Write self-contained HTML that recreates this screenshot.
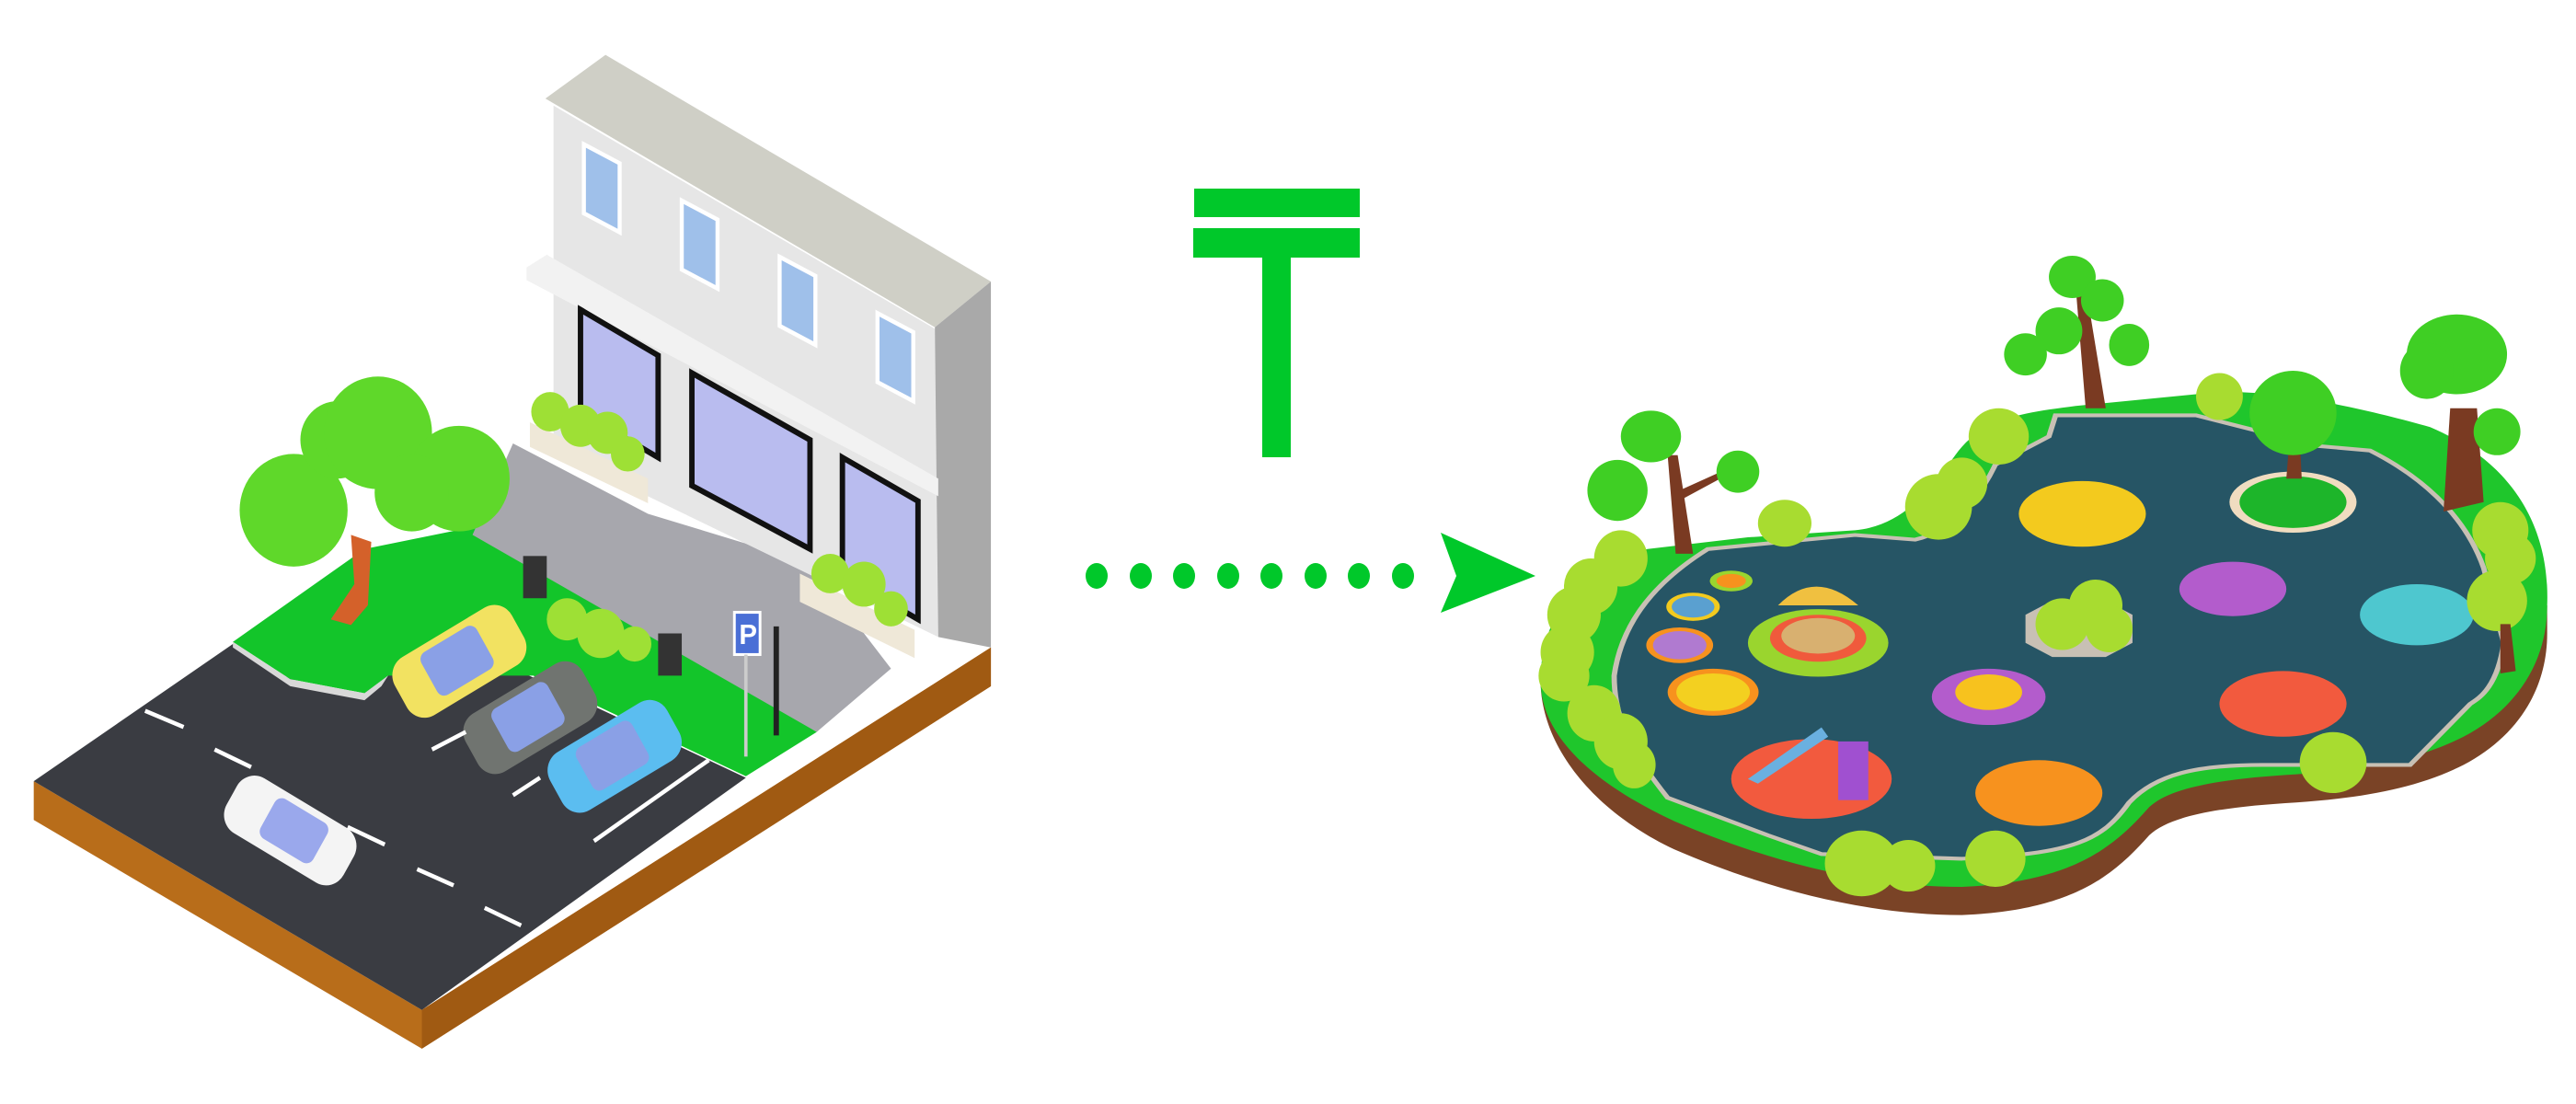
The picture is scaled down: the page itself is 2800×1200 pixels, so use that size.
<!DOCTYPE html>
<html><head><meta charset="utf-8"><style>html,body{margin:0;padding:0;background:#fff;overflow:hidden}svg{display:block}</style></head>
<body>
<svg width="2800" height="1200" viewBox="0 0 2800 1200" xmlns="http://www.w3.org/2000/svg">
<rect width="2800" height="1200" fill="#fff"/>
<g fill="#00c82a">
<rect x="1298" y="205" width="180" height="31"/>
<rect x="1297" y="248" width="181" height="32"/>
<rect x="1372" y="279" width="31" height="218"/>
<ellipse cx="1192" cy="626" rx="12" ry="14"/><ellipse cx="1240" cy="626" rx="12" ry="14"/>
<ellipse cx="1287" cy="626" rx="12" ry="14"/><ellipse cx="1335" cy="626" rx="12" ry="14"/>
<ellipse cx="1382" cy="626" rx="12" ry="14"/><ellipse cx="1430" cy="626" rx="12" ry="14"/>
<ellipse cx="1477" cy="626" rx="12" ry="14"/><ellipse cx="1525" cy="626" rx="12" ry="14"/>
<polygon points="1566,579 1669,626 1566,666 1583,626"/>
</g>
<!-- LEFT SCENE -->
<g transform="scale(0.7337,0.765)">
<polygon points="50,1110 625,1435 1468,920 1468,975 625,1490 50,1165" fill="#b86d1a"/>
<polygon points="625,1435 1468,920 1468,975 625,1490" fill="#a05a12"/>
<polygon points="50,1110 345,915 420,960 470,980 540,985 575,960 640,895 1105,1105 625,1435" fill="#3a3c42"/>
<polygon points="345,912 540,780 720,745 1210,1040 1105,1103 790,960 575,960 540,985 430,965" fill="#13c52a"/>
<polygon points="345,912 430,965 540,985 575,960 565,975 540,995 430,975 345,920" fill="#d8d8d8"/>
<polygon points="700,760 760,630 960,730 1200,800 1320,950 1210,1040" fill="#a7a7ad"/>
<polygon points="820,150 1390,470 1390,905 820,640" fill="#e6e6e6"/>
<polygon points="808,140 897,78 1468,400 1385,465" fill="#cfcfc6"/>
<polygon points="1385,465 1468,400 1468,920 1390,905" fill="#a9a9a9"/>
<polygon points="780,380 810,362 1390,680 1390,705 780,398" fill="#f2f2f2"/>
<g fill="#9fc0ea" stroke="#fff" stroke-width="6">
<polygon points="865,205 918,232 918,330 865,303"/>
<polygon points="1010,285 1063,312 1063,410 1010,383"/>
<polygon points="1155,365 1208,392 1208,490 1155,463"/>
<polygon points="1300,445 1353,472 1353,570 1300,543"/>
</g>
<g fill="#b9bcef" stroke="#111" stroke-width="8">
<polygon points="860,440 975,505 975,650 860,585"/>
<polygon points="1025,530 1200,625 1200,780 1025,690"/>
<polygon points="1248,650 1360,712 1360,880 1248,818"/>
</g>
<polygon points="785,600 960,680 960,715 785,635" fill="#efe8d8"/>
<polygon points="1185,815 1355,895 1355,935 1185,855" fill="#efe8d8"/>
<g fill="#9ee035">
<circle cx="815" cy="585" r="28"/><circle cx="860" cy="605" r="30"/><circle cx="900" cy="615" r="30"/><circle cx="930" cy="645" r="25"/>
<circle cx="1230" cy="815" r="28"/><circle cx="1280" cy="830" r="32"/><circle cx="1320" cy="865" r="25"/>
<circle cx="840" cy="880" r="30"/><circle cx="890" cy="900" r="35"/><circle cx="940" cy="915" r="25"/>
</g>
<path d="M520,760 L550,770 L545,860 L520,888 L490,880 L525,830 Z" fill="#d4612a"/>
<g fill="#5fd82a"><circle cx="435" cy="725" r="80"/><circle cx="500" cy="625" r="55"/><circle cx="560" cy="615" r="80"/><circle cx="680" cy="680" r="75"/><circle cx="610" cy="700" r="55"/></g>
<g transform="rotate(-30 675 940)"><rect x="580" y="895" width="200" height="95" rx="30" fill="#f2e261"/><rect x="630" y="905" width="95" height="70" rx="12" fill="#8aa0e6"/></g>
<g transform="rotate(-30 780 1020)"><rect x="685" y="975" width="200" height="95" rx="30" fill="#707470"/><rect x="735" y="985" width="95" height="70" rx="12" fill="#8aa0e6"/></g>
<g transform="rotate(-30 905 1075)"><rect x="810" y="1030" width="200" height="95" rx="30" fill="#5bbdf0"/><rect x="860" y="1040" width="95" height="70" rx="12" fill="#8aa0e6"/></g>
<g transform="rotate(30 430 1180)"><rect x="330" y="1135" width="200" height="90" rx="30" fill="#f4f4f4"/><rect x="390" y="1145" width="90" height="65" rx="12" fill="#9aa8ec"/></g>
<g stroke="#fff" stroke-width="6">
<line x1="215" y1="1010" x2="272" y2="1033"/><line x1="318" y1="1065" x2="372" y2="1090"/>
<line x1="515" y1="1175" x2="570" y2="1200"/><line x1="618" y1="1235" x2="672" y2="1258"/>
<line x1="718" y1="1290" x2="772" y2="1315"/>
<line x1="640" y1="1065" x2="690" y2="1040"/><line x1="760" y1="1130" x2="800" y2="1105"/><line x1="880" y1="1195" x2="1050" y2="1080"/>
</g>
<rect x="1088" y="870" width="38" height="60" fill="#4a6fd6" stroke="#fff" stroke-width="4"/>
<text x="1095" y="915" font-family="Liberation Sans, sans-serif" font-size="40" fill="#fff" font-weight="bold">P</text>
<line x1="1105" y1="930" x2="1105" y2="1075" stroke="#ccc" stroke-width="5"/>
<line x1="1150" y1="890" x2="1150" y2="1045" stroke="#222" stroke-width="8"/>
<rect x="775" y="790" width="35" height="60" fill="#333"/><rect x="975" y="900" width="35" height="60" fill="#333"/>
</g>
<!-- RIGHT SCENE -->
<g transform="translate(1660,250) scale(0.727,0.51)">
<path d="M20,960 C20,1100 100,1240 220,1320 C350,1400 500,1460 650,1460 C820,1450 880,1370 930,1290 C960,1250 1030,1230 1150,1220 C1250,1210 1330,1190 1400,1140 C1480,1080 1525,980 1525,860 L1525,800 L20,960 Z" fill="#7a4326"/>
<path d="M20,960 C20,850 60,720 180,680 L330,655 L490,640 C560,630 600,560 640,480 C680,400 740,390 820,375 L1000,350 C1100,330 1250,380 1350,420 C1450,480 1530,600 1525,800 C1525,920 1480,1020 1400,1080 C1330,1130 1250,1150 1150,1160 C1030,1170 960,1190 930,1230 C880,1310 820,1390 650,1400 C500,1400 350,1340 220,1260 C100,1180 20,1080 20,960 Z" fill="#1fc62c"/>
<path d="M130,950 C140,850 180,760 270,680 L490,650 L580,660 C640,640 680,560 700,500 L780,440 L790,395 L1000,395 L1180,460 L1260,470 C1330,520 1400,600 1430,720 L1460,880 C1450,980 1420,1000 1410,1010 L1320,1140 L1100,1140 C1000,1140 940,1160 900,1220 C860,1300 820,1330 650,1340 L440,1330 L360,1290 L210,1210 C160,1120 130,1050 130,950 Z" fill="#265565" stroke="#c8c0b4" stroke-width="8"/>
<ellipse cx="830" cy="605" rx="95" ry="70" fill="#f3ca1e"/>
<ellipse cx="1145" cy="580" rx="95" ry="65" fill="#f0dcc0"/><ellipse cx="1145" cy="580" rx="80" ry="55" fill="#1db52a"/>
<ellipse cx="1055" cy="765" rx="80" ry="58" fill="#b35ccc"/>
<ellipse cx="1330" cy="820" rx="85" ry="65" fill="#4ec7cf"/>
<ellipse cx="1130" cy="1010" rx="95" ry="70" fill="#f25a3e"/>
<ellipse cx="765" cy="1200" rx="95" ry="70" fill="#f7921e"/>
<ellipse cx="425" cy="1170" rx="120" ry="85" fill="#f25a3e"/>
<ellipse cx="690" cy="995" rx="85" ry="60" fill="#b35ccc"/><ellipse cx="690" cy="985" rx="50" ry="38" fill="#f7c21e"/>
<ellipse cx="435" cy="880" rx="105" ry="72" fill="#9ad52e"/><ellipse cx="435" cy="870" rx="72" ry="50" fill="#f05a3c"/><ellipse cx="435" cy="865" rx="55" ry="38" fill="#d8b070"/>
<ellipse cx="305" cy="748" rx="32" ry="22" fill="#9ad52e"/><ellipse cx="305" cy="748" rx="22" ry="15" fill="#f7921e"/>
<ellipse cx="248" cy="803" rx="40" ry="30" fill="#f3ca1e"/><ellipse cx="248" cy="803" rx="32" ry="23" fill="#5aa0d0"/>
<ellipse cx="228" cy="885" rx="50" ry="38" fill="#f7921e"/><ellipse cx="228" cy="885" rx="40" ry="30" fill="#b07ad0"/>
<ellipse cx="278" cy="985" rx="68" ry="50" fill="#f7921e"/><ellipse cx="278" cy="985" rx="55" ry="40" fill="#f3d020"/>
<polygon points="330,1170 440,1060 450,1080 345,1180" fill="#6ab0e0"/>
<rect x="465" y="1090" width="45" height="125" fill="#a050d0"/>
<path d="M375,800 Q430,720 495,800 Z" fill="#f0c040"/>
<polygon points="745,820 785,790 865,790 905,820 905,880 865,910 785,910 745,880" fill="#c8c0b4"/>
<g fill="#a8dc30"><ellipse cx="800" cy="840" rx="40" ry="55"/><ellipse cx="850" cy="800" rx="40" ry="55"/><ellipse cx="870" cy="850" rx="35" ry="50"/></g>
<g fill="#a8dc30">
<ellipse cx="140" cy="700" rx="40" ry="60"/><ellipse cx="95" cy="760" rx="40" ry="60"/><ellipse cx="70" cy="820" rx="40" ry="60"/><ellipse cx="60" cy="900" rx="40" ry="60"/><ellipse cx="55" cy="950" rx="38" ry="55"/>
<ellipse cx="100" cy="1030" rx="40" ry="60"/><ellipse cx="140" cy="1090" rx="40" ry="60"/><ellipse cx="160" cy="1140" rx="32" ry="50"/>
<ellipse cx="385" cy="625" rx="40" ry="50"/><ellipse cx="615" cy="590" rx="50" ry="70"/><ellipse cx="650" cy="540" rx="38" ry="55"/><ellipse cx="705" cy="440" rx="45" ry="60"/>
<ellipse cx="1035" cy="355" rx="35" ry="50"/><ellipse cx="1455" cy="640" rx="42" ry="60"/><ellipse cx="1470" cy="700" rx="38" ry="55"/><ellipse cx="1450" cy="790" rx="45" ry="65"/>
<ellipse cx="1205" cy="1135" rx="50" ry="65"/><ellipse cx="500" cy="1350" rx="55" ry="70"/><ellipse cx="570" cy="1355" rx="40" ry="55"/><ellipse cx="700" cy="1340" rx="45" ry="60"/>
</g>
<g fill="#7a3a22">
<polygon points="210,480 225,480 248,690 222,690"/><polygon points="220,560 290,515 295,525 230,575"/>
<polygon points="820,120 835,120 865,380 835,380"/>
<polygon points="1140,440 1155,440 1158,530 1135,530"/>
<polygon points="1380,380 1420,380 1430,580 1370,600"/>
<polygon points="1455,840 1470,840 1478,940 1455,945"/>
</g>
<g fill="#3fcf24">
<ellipse cx="185" cy="440" rx="45" ry="55"/><ellipse cx="135" cy="555" rx="45" ry="65"/><ellipse cx="315" cy="515" rx="32" ry="45"/>
<ellipse cx="815" cy="100" rx="35" ry="45"/><ellipse cx="860" cy="150" rx="32" ry="45"/><ellipse cx="795" cy="215" rx="35" ry="50"/><ellipse cx="745" cy="265" rx="32" ry="45"/><ellipse cx="900" cy="245" rx="30" ry="45"/>
<ellipse cx="1145" cy="390" rx="65" ry="90"/>
<ellipse cx="1390" cy="265" rx="75" ry="85"/><ellipse cx="1345" cy="300" rx="40" ry="60"/><ellipse cx="1450" cy="430" rx="35" ry="50"/>
</g>
</g>
</svg>
</body></html>
